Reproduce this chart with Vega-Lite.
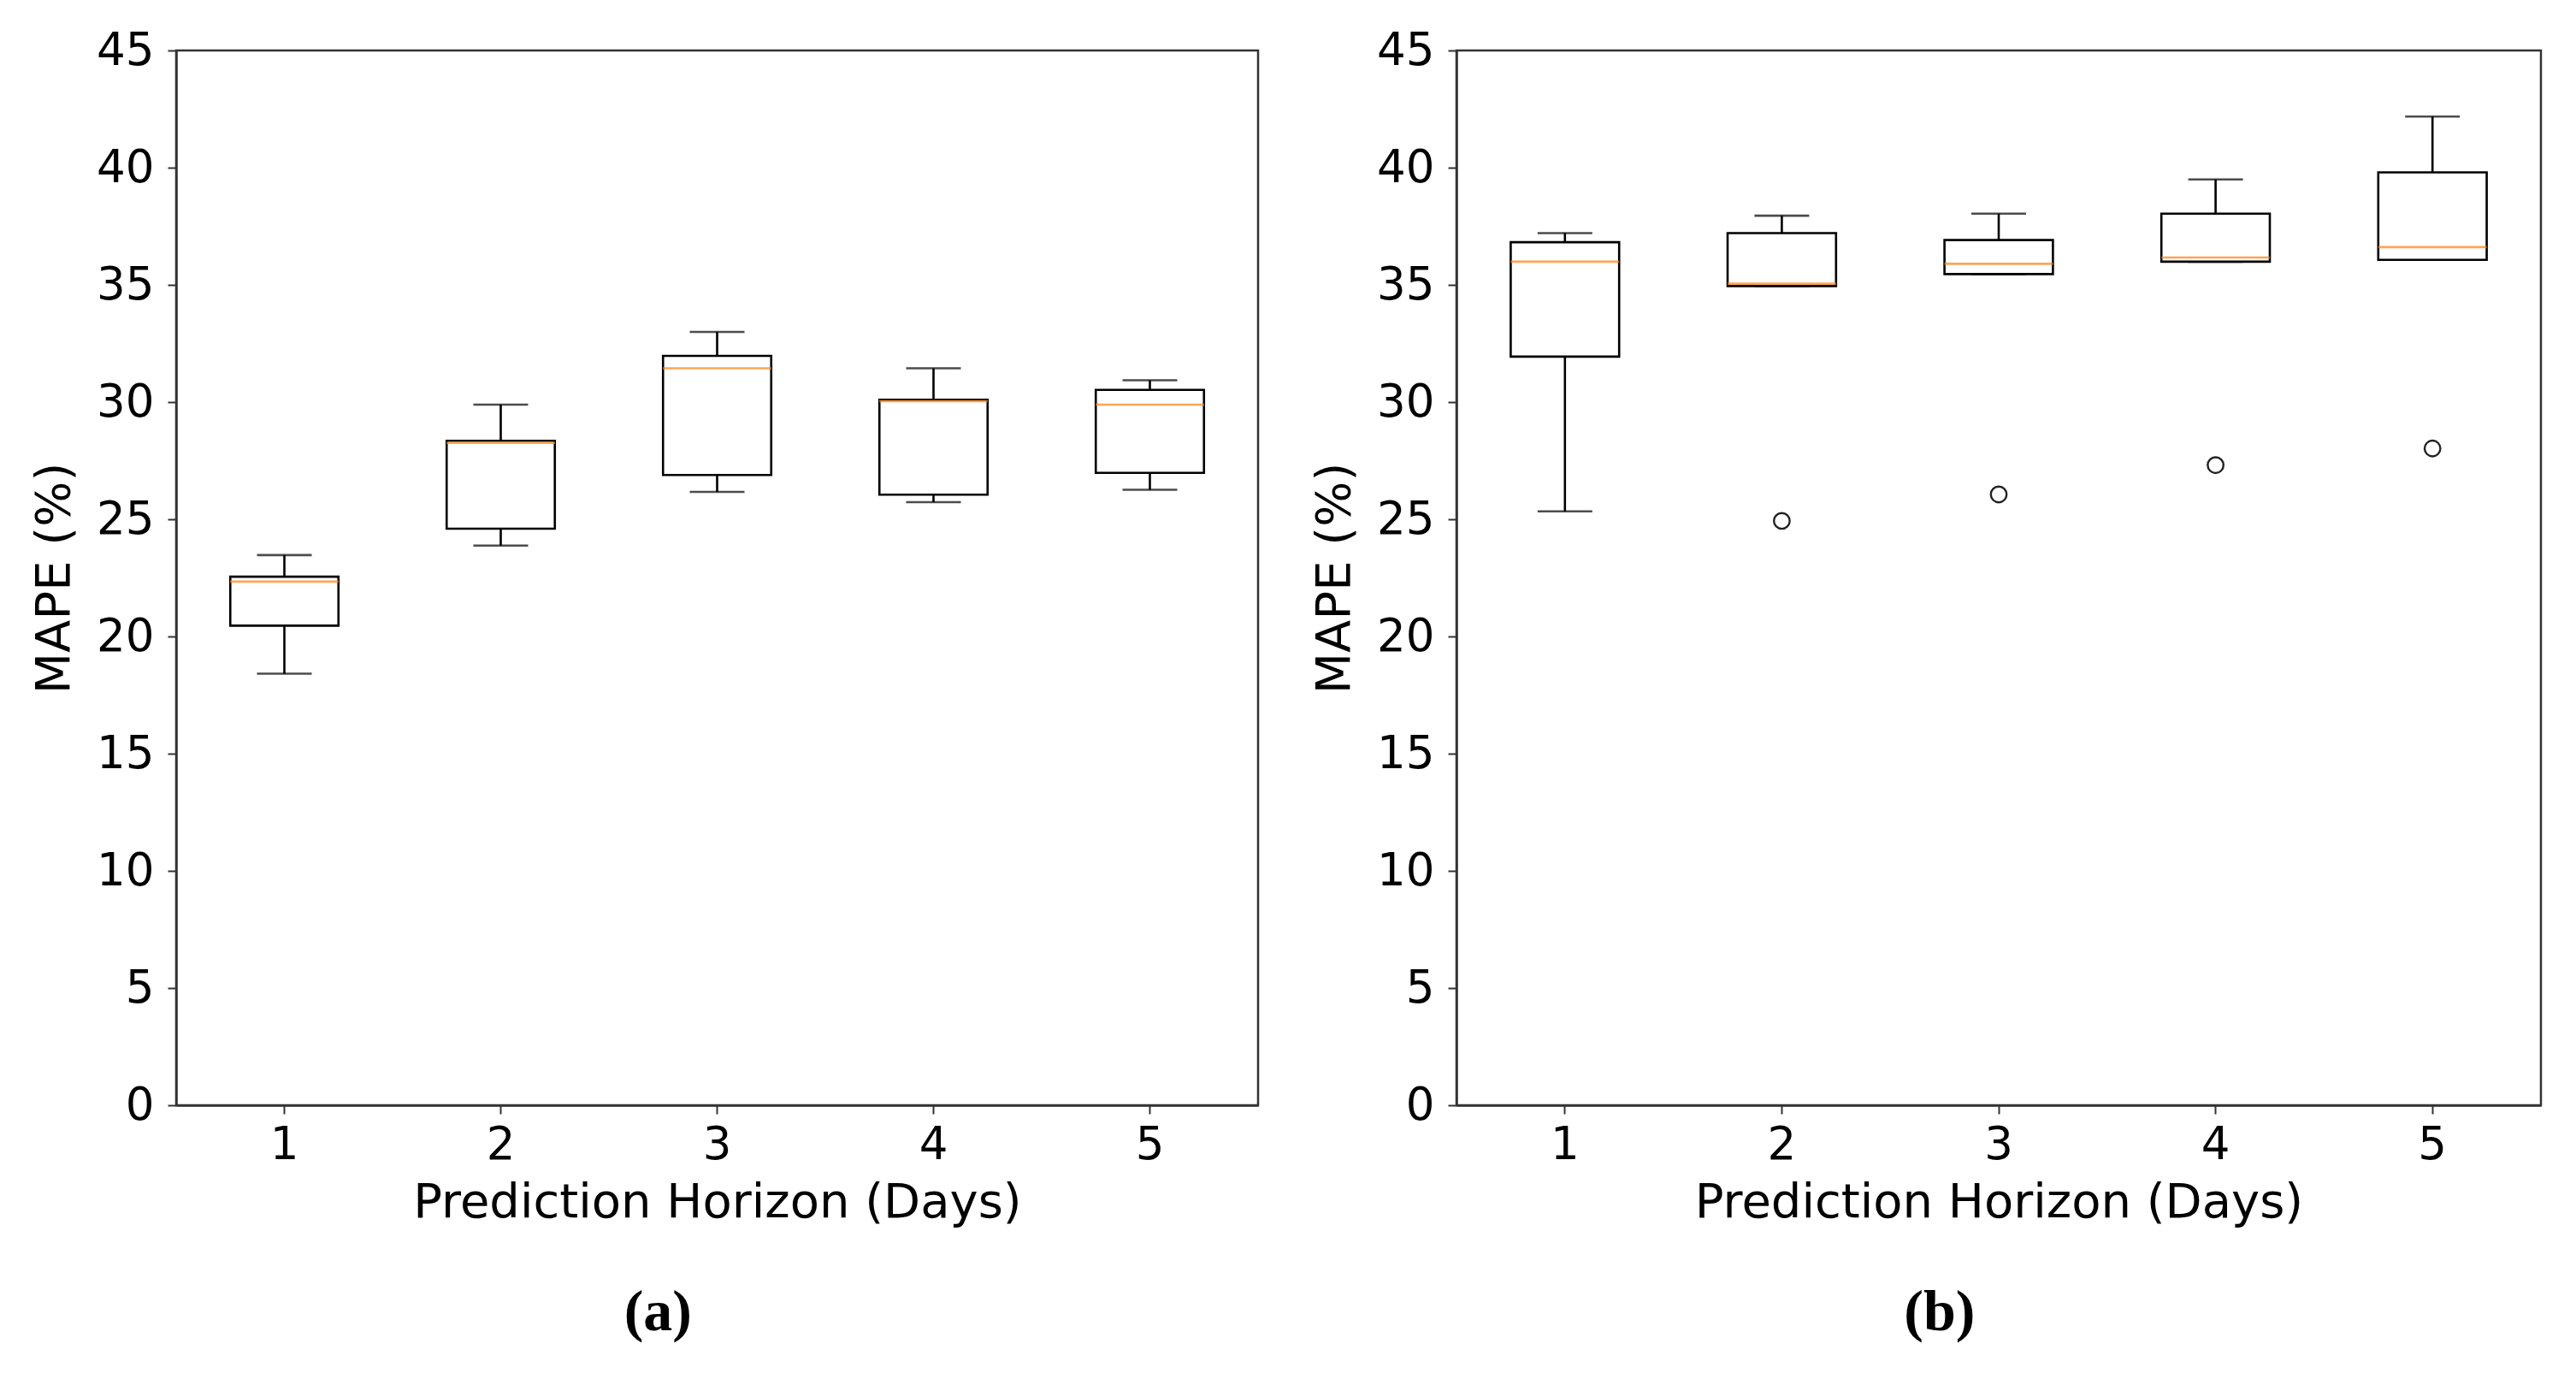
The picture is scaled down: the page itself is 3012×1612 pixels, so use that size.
{
  "$schema": "https://vega.github.io/schema/vega-lite/v6.json",
  "background": "white",
  "padding": {"left": 34, "top": 31, "right": 10, "bottom": 10},
  "spacing": 58,
  "datasets": {
    "boxA": [
      {"day": 1, "low": 18.41, "q1": 20.46, "median": 22.34, "q3": 22.55, "high": 23.47},
      {"day": 2, "low": 23.88, "q1": 24.6, "median": 28.26, "q3": 28.35, "high": 29.89},
      {"day": 3, "low": 26.17, "q1": 26.89, "median": 31.44, "q3": 31.97, "high": 32.99},
      {"day": 4, "low": 25.73, "q1": 26.05, "median": 30.04, "q3": 30.1, "high": 31.44},
      {"day": 5, "low": 26.26, "q1": 26.98, "median": 29.89, "q3": 30.52, "high": 30.93}
    ],
    "boxB": [
      {"day": 1, "low": 25.34, "q1": 31.94, "median": 35.99, "q3": 36.82, "high": 37.21},
      {"day": 2, "low": 34.95, "q1": 34.95, "median": 35.05, "q3": 37.21, "high": 37.95},
      {"day": 3, "low": 35.46, "q1": 35.46, "median": 35.9, "q3": 36.91, "high": 38.04},
      {"day": 4, "low": 35.99, "q1": 35.99, "median": 36.17, "q3": 38.04, "high": 39.5},
      {"day": 5, "low": 36.07, "q1": 36.07, "median": 36.61, "q3": 39.8, "high": 42.18}
    ],
    "outB": [
      {"day": 2, "value": 24.93},
      {"day": 3, "value": 26.06},
      {"day": 4, "value": 27.31},
      {"day": 5, "value": 28.02}
    ]
  },
  "hconcat": [
    {
      "width": 1265,
      "height": 1233,
      "title": {"text": "(a)", "orient": "bottom", "frame": "bounds", "anchor": "middle", "font": "Liberation Serif", "fontSize": 68, "fontWeight": "bold", "color": "black", "offset": 68, "dx": 16},
      "data": {"name": "boxA"},
      "encoding": {
        "x": {"field": "day", "type": "ordinal", "scale": {"paddingInner": 0, "paddingOuter": 0}, "axis": {"title": "Prediction Horizon (Days)"}}
      },
      "layer": [
        {"mark": {"type": "rule", "color": "black", "strokeWidth": 2.6}, "encoding": {"y": {"field": "low", "type": "quantitative", "scale": {"domain": [0, 45], "nice": false, "zero": false}, "axis": {"title": "MAPE (%)", "values": [0, 5, 10, 15, 20, 25, 30, 35, 40, 45]}}, "y2": {"field": "q1"}}},
        {"mark": {"type": "rule", "color": "black", "strokeWidth": 2.6}, "encoding": {"y": {"field": "q3", "type": "quantitative"}, "y2": {"field": "high"}}},
        {"mark": {"type": "tick", "color": "black", "thickness": 2.6, "size": 64}, "encoding": {"y": {"field": "low", "type": "quantitative"}}},
        {"mark": {"type": "tick", "color": "black", "thickness": 2.6, "size": 64}, "encoding": {"y": {"field": "high", "type": "quantitative"}}},
        {"mark": {"type": "bar", "width": {"band": 0.5}, "fill": "white", "stroke": "black", "strokeWidth": 2.6}, "encoding": {"y": {"field": "q1", "type": "quantitative"}, "y2": {"field": "q3"}}},
        {"mark": {"type": "tick", "color": "#ff7f0e", "thickness": 2.6, "size": 127}, "encoding": {"y": {"field": "median", "type": "quantitative"}}}
      ]
    },
    {
      "width": 1268,
      "height": 1233,
      "title": {"text": "(b)", "orient": "bottom", "frame": "bounds", "anchor": "middle", "font": "Liberation Serif", "fontSize": 68, "fontWeight": "bold", "color": "black", "offset": 68, "dx": 16},
      "encoding": {
        "x": {"field": "day", "type": "ordinal", "scale": {"domain": [1, 2, 3, 4, 5], "paddingInner": 0, "paddingOuter": 0}, "axis": {"title": "Prediction Horizon (Days)"}}
      },
      "layer": [
        {"data": {"name": "boxB"}, "mark": {"type": "rule", "color": "black", "strokeWidth": 2.6}, "encoding": {"y": {"field": "low", "type": "quantitative", "scale": {"domain": [0, 45], "nice": false, "zero": false}, "axis": {"title": "MAPE (%)", "values": [0, 5, 10, 15, 20, 25, 30, 35, 40, 45]}}, "y2": {"field": "q1"}}},
        {"data": {"name": "boxB"}, "mark": {"type": "rule", "color": "black", "strokeWidth": 2.6}, "encoding": {"y": {"field": "q3", "type": "quantitative"}, "y2": {"field": "high"}}},
        {"data": {"name": "boxB"}, "mark": {"type": "tick", "color": "black", "thickness": 2.6, "size": 64}, "encoding": {"y": {"field": "low", "type": "quantitative"}}},
        {"data": {"name": "boxB"}, "mark": {"type": "tick", "color": "black", "thickness": 2.6, "size": 64}, "encoding": {"y": {"field": "high", "type": "quantitative"}}},
        {"data": {"name": "boxB"}, "mark": {"type": "bar", "width": {"band": 0.5}, "fill": "white", "stroke": "black", "strokeWidth": 2.6}, "encoding": {"y": {"field": "q1", "type": "quantitative"}, "y2": {"field": "q3"}}},
        {"data": {"name": "boxB"}, "mark": {"type": "tick", "color": "#ff7f0e", "thickness": 2.6, "size": 127}, "encoding": {"y": {"field": "median", "type": "quantitative"}}},
        {"data": {"name": "outB"}, "mark": {"type": "point", "shape": "circle", "filled": false, "stroke": "#222", "strokeWidth": 2.4, "size": 340, "opacity": 1}, "encoding": {"y": {"field": "value", "type": "quantitative"}}}
      ]
    }
  ],
  "config": {
    "font": "DejaVu Sans",
    "view": {"stroke": "#333", "strokeWidth": 2.5},
    "axis": {
      "grid": false,
      "labelFont": "DejaVu Sans",
      "labelFontSize": 53,
      "labelColor": "black",
      "labelAngle": 0,
      "titleFont": "DejaVu Sans",
      "titleFontSize": 56,
      "titleFontWeight": "normal",
      "titleColor": "black",
      "tickColor": "#333",
      "tickWidth": 2,
      "tickSize": 10,
      "domainColor": "#333",
      "domainWidth": 2.5
    },
    "axisX": {"labelPadding": 10, "titlePadding": 13},
    "axisY": {"labelPadding": 16, "titlePadding": 20}
  }
}
